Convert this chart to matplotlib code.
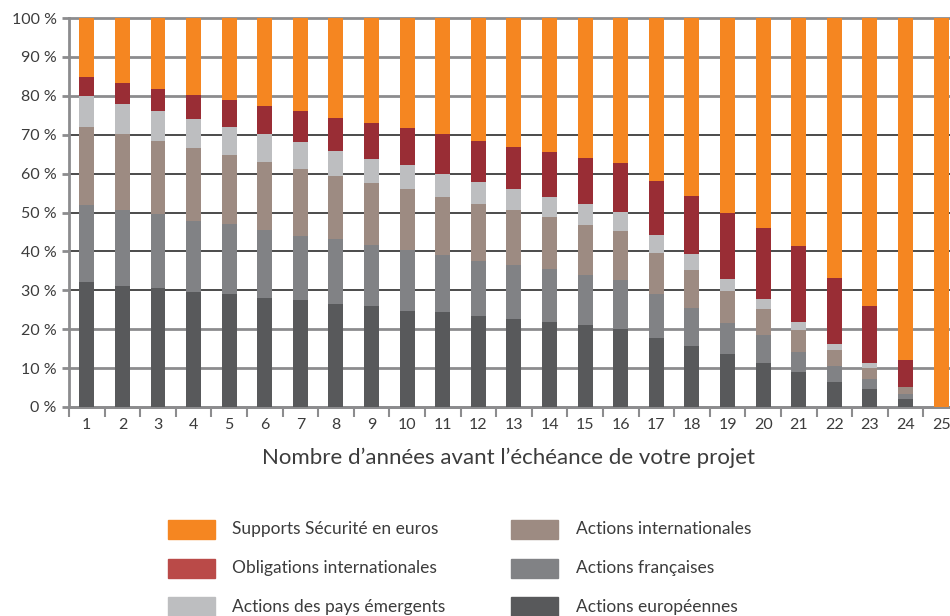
import numpy as np
import matplotlib.pyplot as plt
from matplotlib.patches import Rectangle

plt.rcParams['font.family'] = ['Lato', 'DejaVu Sans']

# Années avant l'échéance
annees = list(range(1, 26))

# Répartition (%) par support, du bas vers le haut
europeennes = [32.2, 31.2, 30.7, 29.6, 29.1, 28.1, 27.6, 26.6, 26.0, 24.8, 24.3, 23.5, 22.7,
               21.9, 21.2, 20.1, 17.8, 15.8, 13.5, 11.4, 9.1, 6.5, 4.7, 2.1, 0]
francaises = [19.8, 19.5, 19.0, 18.3, 18.0, 17.5, 16.4, 16.7, 15.7, 15.6, 14.9, 14.1, 13.9,
              13.7, 12.8, 12.6, 11.3, 9.7, 8.2, 7.2, 5.1, 4.1, 2.6, 1.3, 0]
internationales = [20.1, 19.6, 18.8, 18.8, 17.8, 17.5, 17.3, 16.2, 16.0, 15.7, 14.9, 14.7, 14.1,
                   13.3, 12.9, 12.6, 10.6, 9.8, 8.2, 6.7, 5.7, 4.1, 2.8, 1.8, 0]
emergents = [7.9, 7.7, 7.7, 7.4, 7.2, 7.2, 6.9, 6.4, 6.1, 6.2, 5.9, 5.6, 5.4,
             5.2, 5.4, 4.9, 4.6, 4.1, 3.1, 2.5, 2.0, 1.6, 1.3, 0, 0]
obligations = [4.9, 5.4, 5.6, 6.2, 6.9, 7.2, 8.0, 8.5, 9.3, 9.3, 10.3, 10.6, 10.8,
               11.5, 11.8, 12.6, 13.9, 14.9, 17.0, 18.3, 19.6, 16.9, 14.6, 7.0, 0]
securite = [15.1, 16.6, 18.2, 19.7, 21.0, 22.5, 23.8, 25.6, 26.9, 28.4, 29.7, 31.5, 33.1,
            34.4, 35.9, 37.2, 41.8, 45.7, 50.0, 53.9, 58.5, 66.8, 74.0, 87.8, 100]

series = [
    (europeennes, '#58595b'),
    (francaises, '#818285'),
    (internationales, '#9d8b82'),
    (emergents, '#bdbec0'),
    (obligations, '#992d35'),
    (securite, '#f58621'),
]

texte = '#3c3c3c'
gris = '#8c8c8e'

fig = plt.figure(figsize=(9.5, 6.16), dpi=100)
ax = fig.add_axes([69/950, 1 - 407/616, 1 - 69/950, (407 - 18)/616])

# Lignes horizontales
for y in range(0, 101, 10):
    if 30 <= y <= 70:
        ax.axhline(y, color='#1a1a1a', lw=1.1, zorder=1, clip_on=False)
    else:
        ax.axhline(y, color=gris, lw=2, zorder=1, clip_on=False)

# Barres empilées
bas = np.zeros(len(annees))
for vals, col in series:
    ax.bar(annees, vals, width=0.42, bottom=bas, color=col, zorder=3)
    bas += np.array(vals)

ax.set_xlim(0.5, 25.25)
ax.set_ylim(0, 100)

ax.set_yticks(range(0, 101, 10))
ax.set_yticklabels([f'{v} %' for v in range(0, 101, 10)], fontsize=11.5, color=texte)
ax.tick_params(axis='y', length=5, width=2, color=gris, pad=4)

ax.set_xticks(annees)
ax.set_xticklabels([str(a) for a in annees], fontsize=11.5, color=texte)
ax.set_xticks(np.arange(0.5, 25, 1), minor=True)
ax.tick_params(axis='x', which='major', length=0, pad=8)
ax.tick_params(axis='x', which='minor', length=7, width=1.5, color=gris)

for s in ['top', 'right']:
    ax.spines[s].set_visible(False)
for s in ['left', 'bottom']:
    ax.spines[s].set_color(gris)
    ax.spines[s].set_linewidth(2)

fig.text(508/950, 1 - 458/616, 'Nombre d’années avant l’échéance de votre projet',
         ha='center', va='center', fontsize=16, color=texte)

# Légende
legende = [
    ('Supports Sécurité en euros', '#f58621', 168, 232, 529),
    ('Obligations internationales', '#ba4a48', 168, 232, 568),
    ('Actions des pays émergents', '#bdbec0', 168, 232, 607),
    ('Actions internationales', '#9d8b82', 511, 576, 529),
    ('Actions françaises', '#818285', 511, 576, 568),
    ('Actions européennes', '#58595b', 511, 576, 607),
]
for lab, col, xp, xt, yc in legende:
    fig.add_artist(Rectangle((xp/950, 1 - (yc + 9.5)/616), 47/950, 19/616,
                             transform=fig.transFigure, color=col))
    fig.text(xt/950, 1 - yc/616, lab, ha='left', va='center', fontsize=12.5, color=texte)

plt.savefig('out.png', dpi=100)
